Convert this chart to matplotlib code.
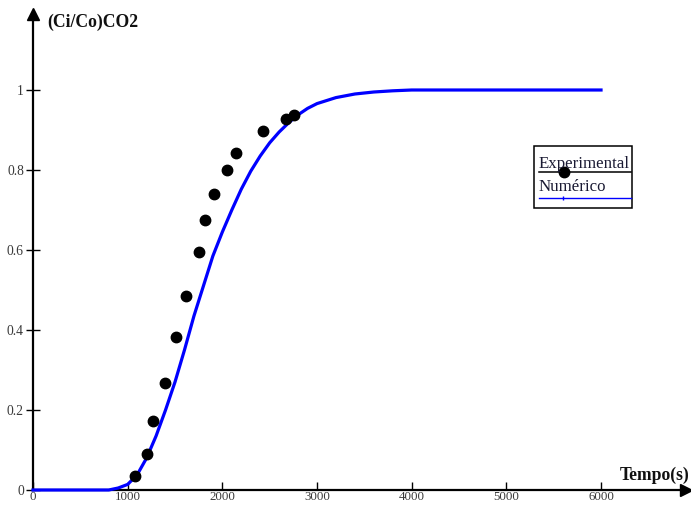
import numpy as np
import matplotlib.pyplot as plt
from matplotlib.lines import Line2D
from matplotlib.patches import Rectangle

# experimental points (time s, Ci/Co)
t_exp = [1080, 1205, 1270, 1397, 1507, 1616, 1749, 1816, 1915, 2049, 2147, 2432, 2670, 2752]
c_exp = [0.035, 0.089, 0.172, 0.268, 0.382, 0.486, 0.594, 0.675, 0.739, 0.799, 0.842, 0.897, 0.927, 0.938]

# numerical curve
t_num = [0, 800, 900, 1000, 1100, 1200, 1300, 1400, 1500, 1600, 1700, 1800, 1900, 2000,
         2100, 2200, 2300, 2400, 2500, 2600, 2700, 2800, 2900, 3000, 3200, 3400, 3600,
         3800, 4000, 6000]
c_num = [0, 0, 0.005, 0.014, 0.038, 0.08, 0.135, 0.2, 0.27, 0.35, 0.435, 0.51, 0.585, 0.645,
         0.70, 0.752, 0.797, 0.835, 0.868, 0.895, 0.918, 0.938, 0.954, 0.966, 0.981, 0.99, 0.995,
         0.998, 1.0, 1.0]

xticks = [0, 1000, 2000, 3000, 4000, 5000, 6000]
yticks = [0, 0.2, 0.4, 0.6, 0.8, 1]
ytick_labels = ['0', '0.2', '0.4', '0.6', '0.8', '1']

W, H = 691, 507
plt.rcParams['font.family'] = ['Liberation Serif', 'DejaVu Serif']

fig = plt.figure(figsize=(W / 100, H / 100), dpi=100)


def fx(px):
    return px / W


def fy(py):
    return 1 - py / H


# axes: x=0 at px 33, 94.67 px per 1000 ; y=0 at px 490, 400 px per 1
left, right, top, bottom = 33, 686, 14, 490
ax = fig.add_axes([fx(left), fy(bottom), (right - left) / W, (bottom - top) / H])
ax.set_xlim(0, (right - left) / 94.67 * 1000)
ax.set_ylim(0, (bottom - top) / 400)

ax.plot(t_num, c_num, color='#0000ff', lw=2.3, zorder=3, clip_on=False)
ax.plot(t_exp, c_exp, 'o', color='black', ms=7.5, zorder=4, clip_on=False)

for s in ['top', 'right']:
    ax.spines[s].set_visible(False)
for s in ['left', 'bottom']:
    ax.spines[s].set_linewidth(1.6)
ax.plot(1, 0, '>', color='black', ms=8, transform=ax.transAxes, clip_on=False)
ax.plot(0, 1, '^', color='black', ms=8, transform=ax.transAxes, clip_on=False)

ax.set_xticks(xticks)
ax.set_yticks(yticks)
ax.set_yticklabels(ytick_labels)
ax.tick_params(axis='y', direction='inout', length=9.5, width=1, pad=1.8,
               labelsize=9.8, labelcolor='#3a3a3a')
ax.tick_params(axis='x', direction='in', length=6, width=1, pad=0.8,
               labelsize=9.3, labelcolor='#3a3a3a')

fig.text(fx(47), fy(27), '(Ci/Co)CO2', fontsize=12.7, fontweight='bold',
         va='baseline', ha='left', color='#111111')
fig.text(fx(690), fy(480), 'Tempo(s)', fontsize=12.7, fontweight='bold',
         va='baseline', ha='right', color='#111111')

# legend box
fig.patches.append(Rectangle((fx(534), fy(208.3)), (631.7 - 534) / W, (208.3 - 145.7) / H,
                             transform=fig.transFigure, fill=False, ec='black', lw=1.1))
fig.text(fx(539), fy(168), 'Experimental', fontsize=12.2, va='baseline', ha='left',
         color='#1a1a33')
fig.lines.append(Line2D([fx(539), fx(631)], [fy(172.3), fy(172.3)],
                        transform=fig.transFigure, color='black', lw=1.1))
fig.lines.append(Line2D([fx(564)], [fy(172.3)], transform=fig.transFigure,
                        marker='o', color='black', ms=7.5))
fig.text(fx(539), fy(190.7), 'Numérico', fontsize=12.2, va='baseline', ha='left',
         color='#1a1a33')
fig.lines.append(Line2D([fx(539), fx(631)], [fy(197.7), fy(197.7)],
                        transform=fig.transFigure, color='#0000ff', lw=1))
fig.lines.append(Line2D([fx(563.3)], [fy(197.7)], transform=fig.transFigure,
                        marker='|', color='#0000ff', ms=3, mew=1))

fig.savefig('out.png', dpi=100)
